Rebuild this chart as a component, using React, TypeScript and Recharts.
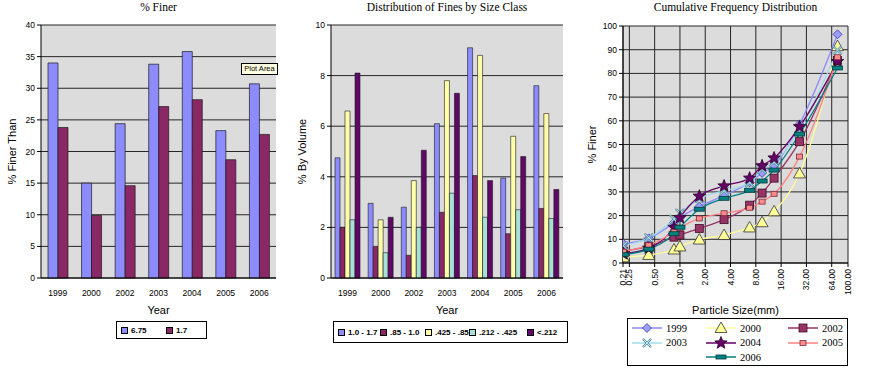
import React from 'react';
import { Bar, BarChart, CartesianGrid, Line, LineChart, XAxis, YAxis } from 'recharts';

const SANS = '"Liberation Sans", Arial, sans-serif';
const SERIF = '"Liberation Serif", "Times New Roman", serif';

// --- panel 1: % finer
const years = ['1999', '2000', '2002', '2003', '2004', '2005', '2006'];
const finerNames = ['6.75', '1.7'];
const finer675 = [34.0, 15.0, 24.4, 33.8, 35.8, 23.3, 30.7];
const finer17 = [23.8, 9.9, 14.6, 27.1, 28.2, 18.7, 22.7];
const finerTicks = [0, 5, 10, 15, 20, 25, 30, 35, 40];

// --- panel 2: distribution by size class
const classNames = ['1.0 - 1.7', '.85 - 1.0', '.425 - .85', '.212 - .425', '<.212'];
const vol10to17 = [4.75, 2.95, 2.8, 6.1, 9.1, 3.95, 7.6];
const vol085to10 = [2.0, 1.25, 0.9, 2.6, 4.05, 1.75, 2.75];
const vol0425to085 = [6.6, 2.3, 3.85, 7.8, 8.8, 5.6, 6.5];
const vol0212to0425 = [2.3, 1.0, 2.0, 3.35, 2.4, 2.7, 2.35];
const volUnder0212 = [8.1, 2.4, 5.05, 7.3, 3.85, 4.8, 3.5];
const volTicks = [0, 2, 4, 6, 8, 10];

// --- panel 3: cumulative frequency
const sieveSizes = [0.212, 0.425, 0.85, 1.0, 1.7, 3.35, 6.75, 9.5, 13.2, 26.5, 75];
const cum1999 = [8.1, 10.4, 17.1, 19.1, 23.8, 28.5, 34.0, 38.0, 41.0, 58.5, 96.5];
const cum2000 = [2.4, 3.4, 5.7, 7.0, 9.9, 11.8, 15.0, 17.2, 21.8, 37.8, 91.5];
const cum2002 = [5.05, 7.05, 10.9, 11.8, 14.6, 18.3, 24.4, 29.5, 35.8, 51.2, 85.5];
const cum2003 = [7.3, 10.65, 18.45, 21.05, 27.15, 30.5, 33.8, 39.5, 42.5, 56.5, 89.8];
const cum2004 = [3.85, 6.25, 15.05, 19.1, 28.2, 32.5, 35.8, 41.0, 44.3, 57.5, 85.0];
const cum2005 = [4.8, 7.5, 13.1, 14.85, 18.8, 21.0, 23.3, 25.9, 29.2, 44.9, 86.8];
const cum2006 = [3.5, 5.85, 12.35, 15.1, 22.7, 27.3, 30.7, 34.6, 39.2, 54.4, 82.3];
const sizeTicks = [0.21, 0.25, 0.5, 1, 2, 4, 8, 16, 32, 64, 100];
const cumTicks = [0, 10, 20, 30, 40, 50, 60, 70, 80, 90, 100];

const finerData = years.map((year, i) => ({ year, a: finer675[i], b: finer17[i] }));
const volData = years.map((year, i) => ({
  year,
  c1: vol10to17[i],
  c2: vol085to10[i],
  c3: vol0425to085[i],
  c4: vol0212to0425[i],
  c5: volUnder0212[i]
}));
const cumData = sieveSizes.map((size, i) => ({
  size,
  y1999: cum1999[i],
  y2000: cum2000[i],
  y2002: cum2002[i],
  y2003: cum2003[i],
  y2004: cum2004[i],
  y2005: cum2005[i],
  y2006: cum2006[i]
}));

const PLOT_BG = '#DCDCDC';
const GRID = '#262626';
const tickStyle = { fontSize: 8.5, fill: '#000', fontFamily: SANS };

const SideTitle = ({ viewBox, text }: any) => {
  const x = 12;
  const cy = viewBox.y + viewBox.height / 2;
  return (
    <text x={x} y={cy} transform={`rotate(-90 ${x} ${cy})`} textAnchor="middle" dominantBaseline="central"
      fontSize={11} fontFamily={SANS} fill="#000">{text}</text>
  );
};

const Title = ({ text, left, width }: { text: string; left: number; width: number }) => (
  <div style={{ position: 'absolute', left, top: 0, width, textAlign: 'center', fontFamily: SERIF, fontSize: 11.5, lineHeight: '15px', color: '#000' }}>
    {text}
  </div>
);

const BoxLegend = ({ left, top, width, height, names, colors, widths }: any) => (
  <div style={{ position: 'absolute', left, top, width, height, boxSizing: 'border-box', border: '1px solid #000', background: '#fff', display: 'flex', alignItems: 'center', paddingLeft: 4 }}>
    {names.map((n: string, i: number) => (
      <div key={n} style={{ display: 'flex', alignItems: 'center', width: widths[i], fontFamily: SANS, fontSize: 8, fontWeight: 'bold', whiteSpace: 'nowrap' }}>
        <span style={{ display: 'inline-block', width: 5, height: 5, border: '1px solid #000', background: colors[i], marginRight: 3 }} />
        {n}
      </div>
    ))}
  </div>
);

// ---- markers for the cumulative chart
const Marker = ({ kind, cx, cy, fill, edge }: any) => {
  if (cx == null || cy == null) return null;
  switch (kind) {
    case 'diamond':
      return <path d={`M${cx} ${cy - 4.5}L${cx + 4.5} ${cy}L${cx} ${cy + 4.5}L${cx - 4.5} ${cy}Z`} fill={fill} stroke={edge} strokeWidth={0.8} />;
    case 'triangle':
      return <path d={`M${cx} ${cy - 6}L${cx + 6} ${cy + 4.5}L${cx - 6} ${cy + 4.5}Z`} fill={fill} stroke={edge} strokeWidth={0.8} />;
    case 'square':
      return <rect x={cx - 4} y={cy - 4} width={8} height={8} fill={fill} stroke={edge} strokeWidth={0.8} />;
    case 'cross':
      return (
        <g stroke={edge} strokeWidth={2.2} strokeLinecap="round">
          <line x1={cx - 3.5} y1={cy - 3.5} x2={cx + 3.5} y2={cy + 3.5} />
          <line x1={cx - 3.5} y1={cy + 3.5} x2={cx + 3.5} y2={cy - 3.5} />
          <line x1={cx - 3.5} y1={cy - 3.5} x2={cx + 3.5} y2={cy + 3.5} stroke={fill} strokeWidth={1} />
          <line x1={cx - 3.5} y1={cy + 3.5} x2={cx + 3.5} y2={cy - 3.5} stroke={fill} strokeWidth={1} />
        </g>
      );
    case 'star': {
      const pts: string[] = [];
      for (let k = 0; k < 10; k++) {
        const r = k % 2 === 0 ? 6.5 : 2.8;
        const a = -Math.PI / 2 + (k * Math.PI) / 5;
        pts.push(`${cx + r * Math.cos(a)},${cy + r * Math.sin(a)}`);
      }
      return <polygon points={pts.join(' ')} fill={fill} stroke={edge} strokeWidth={0.8} />;
    }
    case 'smallSquare':
      return <rect x={cx - 3} y={cy - 2.5} width={6} height={5} fill={fill} stroke={edge} strokeWidth={0.8} />;
    case 'dash':
      return <rect x={cx - 5} y={cy - 2} width={10} height={4} fill={fill} stroke={edge} strokeWidth={0.8} />;
    default:
      return null;
  }
};

const lineStyles = [
  { key: 'y1999', name: '1999', color: '#8A8AFF', kind: 'diamond', fill: '#9C9CFF', edge: '#3A3AA0', col: 1 },
  { key: 'y2000', name: '2000', color: '#FFFF99', kind: 'triangle', fill: '#FFFF99', edge: '#333', col: 2 },
  { key: 'y2002', name: '2002', color: '#993366', kind: 'square', fill: '#993366', edge: '#3A1028', col: 3 },
  { key: 'y2003', name: '2003', color: '#9FDDEE', kind: 'cross', fill: '#B8E8F0', edge: '#5D8EA3', col: 1 },
  { key: 'y2004', name: '2004', color: '#660066', kind: 'star', fill: '#660066', edge: '#2A002A', col: 2 },
  { key: 'y2005', name: '2005', color: '#FF8080', kind: 'smallSquare', fill: '#FF8A8A', edge: '#7A2A40', col: 3 },
  { key: 'y2006', name: '2006', color: '#008080', kind: 'dash', fill: '#008080', edge: '#003A3A', col: 2 }
];

const SizeTick = ({ x, y, payload }: any) => (
  <text x={x} y={y} transform={`rotate(-90 ${x} ${y})`} textAnchor="end" dominantBaseline="central" {...tickStyle}>
    {Number(payload.value).toFixed(2)}
  </text>
);

const barColors1 = ['#8C8CFF', '#8A2866'];
const barColors2 = ['#8C8CFF', '#8A2866', '#FFFFAA', '#A8E0D8', '#600868'];

const App: React.FC = () => {
  return (
    <div style={{ position: 'absolute', left: 0, top: 0, width: 871, height: 379, background: '#fff', overflow: 'hidden' }}>
      {/* panel 1 */}
      <Title text="% Finer" left={41} width={235} />
      <div style={{ position: 'absolute', left: 0, top: 0 }}>
        <BarChart width={290} height={379} data={finerData} margin={{ top: 25, right: 14, bottom: 65, left: 0 }} barSize={10} barGap={0}>
          <CartesianGrid vertical={false} stroke={GRID} fill={PLOT_BG} />
          <XAxis xAxisId="edge" type="number" domain={[0, 7]} ticks={[0, 1, 2, 3, 4, 5, 6, 7]} tick={false} height={0}
            axisLine={false} tickLine={{ stroke: '#000' }} tickSize={4} />
          <XAxis dataKey="year" tick={tickStyle} tickLine={false} axisLine={{ stroke: '#000' }} height={36} tickMargin={6}
            label={{ value: 'Year', position: 'insideBottom', offset: 0, fontSize: 11, fontFamily: SANS, fill: '#000' }} />
          <YAxis domain={[0, 40]} ticks={finerTicks} width={41} tick={tickStyle} tickSize={4} tickMargin={2}
            axisLine={{ stroke: '#000' }} tickLine={{ stroke: '#000' }} interval={0}
            label={{ content: (p: any) => <SideTitle viewBox={p.viewBox} text="% Finer Than" /> }} />
          <YAxis yAxisId="rb" orientation="right" width={0} domain={[0, 1]} tick={false} tickLine={false} axisLine={{ stroke: '#808080' }} />
          <Bar dataKey="a" name={finerNames[0]} fill={barColors1[0]} stroke="#1a1a1a" strokeWidth={0.7} isAnimationActive={false} />
          <Bar dataKey="b" name={finerNames[1]} fill={barColors1[1]} stroke="#1a1a1a" strokeWidth={0.7} isAnimationActive={false} />
        </BarChart>
      </div>
      <BoxLegend left={116} top={321} width={91} height={18} names={finerNames} colors={barColors1} widths={[45, 40]} />
      <div style={{ position: 'absolute', left: 241, top: 63, width: 37, height: 12, boxSizing: 'border-box', border: '1px solid #000', background: '#FFFFE1', fontFamily: SANS, fontSize: 7.5, lineHeight: '10px', textAlign: 'center', whiteSpace: 'nowrap' }}>
        Plot Area
      </div>

      {/* panel 2 */}
      <Title text="Distribution of Fines by Size Class" left={331} width={232} />
      <div style={{ position: 'absolute', left: 290, top: 0 }}>
        <BarChart width={290} height={379} data={volData} margin={{ top: 25, right: 17, bottom: 65, left: 0 }} barSize={5} barGap={0}>
          <CartesianGrid vertical={false} stroke={GRID} fill={PLOT_BG} />
          <XAxis xAxisId="edge" type="number" domain={[0, 7]} ticks={[0, 1, 2, 3, 4, 5, 6, 7]} tick={false} height={0}
            axisLine={false} tickLine={{ stroke: '#000' }} tickSize={4} />
          <XAxis dataKey="year" tick={tickStyle} tickLine={false} axisLine={{ stroke: '#000' }} height={36} tickMargin={6}
            label={{ value: 'Year', position: 'insideBottom', offset: 0, fontSize: 11, fontFamily: SANS, fill: '#000' }} />
          <YAxis domain={[0, 10]} ticks={volTicks} width={41} tick={tickStyle} tickSize={4} tickMargin={2}
            axisLine={{ stroke: '#000' }} tickLine={{ stroke: '#000' }} interval={0}
            label={{ content: (p: any) => <SideTitle viewBox={p.viewBox} text="% By Volume" /> }} />
          <YAxis yAxisId="rb" orientation="right" width={0} domain={[0, 1]} tick={false} tickLine={false} axisLine={{ stroke: '#808080' }} />
          {['c1', 'c2', 'c3', 'c4', 'c5'].map((k, i) => (
            <Bar key={k} dataKey={k} name={classNames[i]} fill={barColors2[i]} stroke="#1a1a1a" strokeWidth={0.6} isAnimationActive={false} />
          ))}
        </BarChart>
      </div>
      <BoxLegend left={333} top={321} width={235} height={22} names={classNames} colors={barColors2} widths={[42, 45, 44, 58, 40]} />

      {/* panel 3 */}
      <Title text="Cumulative Frequency Distribution" left={623} width={225} />
      <div style={{ position: 'absolute', left: 580, top: 0 }}>
        <LineChart width={291} height={379} data={cumData} margin={{ top: 26, right: 23, bottom: 65, left: 0 }}>
          <CartesianGrid stroke={GRID} fill={PLOT_BG} />
          <XAxis dataKey="size" type="number" scale="log" domain={[0.21, 100]} ticks={sizeTicks} interval={0} allowDataOverflow
            tick={<SizeTick />} tickSize={4} tickMargin={2} axisLine={{ stroke: '#000' }} tickLine={{ stroke: '#000' }} height={51}
            label={{ value: 'Particle Size(mm)', position: 'insideBottom', offset: 0, fontSize: 11, fontFamily: SANS, fill: '#000' }} />
          <YAxis domain={[0, 100]} ticks={cumTicks} width={43} tick={tickStyle} tickSize={4} tickMargin={2} interval={0}
            axisLine={{ stroke: '#000' }} tickLine={{ stroke: '#000' }}
            label={{ content: (p: any) => <SideTitle viewBox={p.viewBox} text="% Finer" /> }} />
          {lineStyles.map((s) => (
            <Line key={s.key} type="monotone" dataKey={s.key} name={s.name} stroke={s.color} strokeWidth={1.3}
              isAnimationActive={false}
              dot={(p: any) => <Marker key={`${s.key}-${p.index}`} kind={s.kind} cx={p.cx} cy={p.cy} fill={s.fill} edge={s.edge} />}
              activeDot={false} />
          ))}
        </LineChart>
      </div>
      <div style={{ position: 'absolute', left: 627, top: 318, width: 221, height: 48, boxSizing: 'border-box', border: '1px solid #000', background: '#fff', display: 'grid', gridTemplateColumns: '74px 82px 1fr', gridAutoRows: '14.5px', paddingTop: 2, paddingLeft: 4 }}>
        {lineStyles.map((s) => (
          <div key={s.key} style={{ gridColumn: s.col, display: 'flex', alignItems: 'center', fontFamily: SERIF, fontSize: 10.5 }}>
            <svg width={30} height={14} style={{ marginRight: 4 }}>
              <line x1={0} y1={7} x2={30} y2={7} stroke={s.color} strokeWidth={1.5} />
              <Marker kind={s.kind} cx={15} cy={7} fill={s.fill} edge={s.edge} />
            </svg>
            {s.name}
          </div>
        ))}
      </div>
    </div>
  );
};

export default App;
